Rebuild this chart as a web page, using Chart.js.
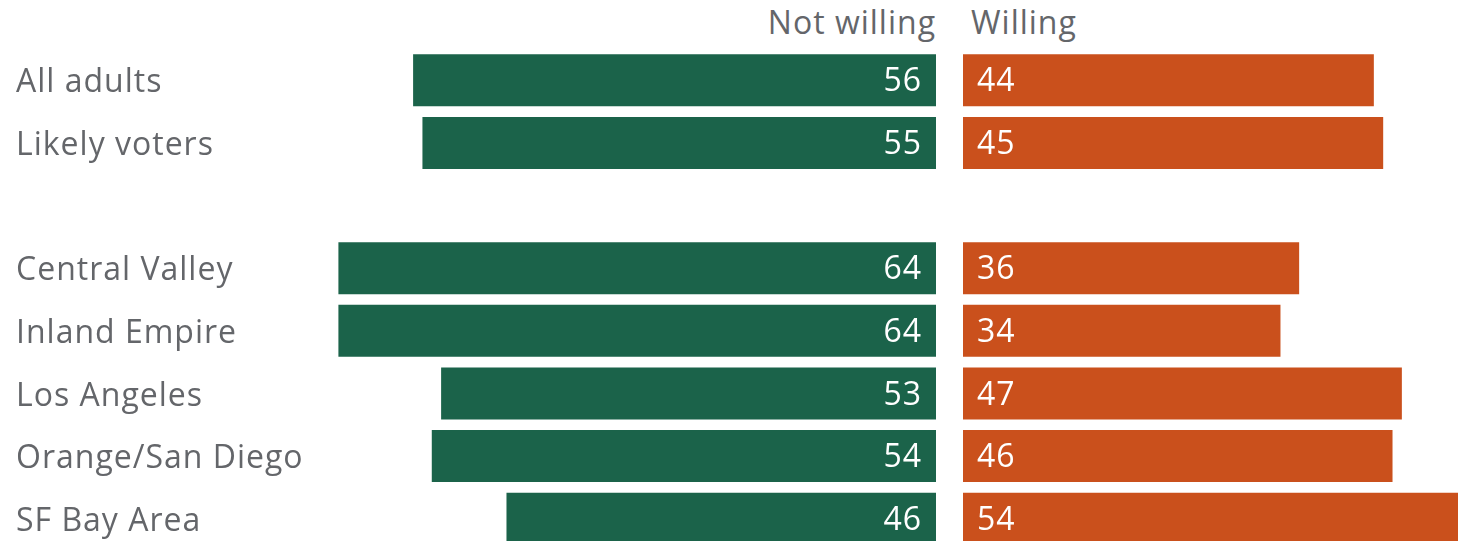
<!DOCTYPE html>
<html>
<head>
<meta charset="utf-8">
<script src="https://cdn.jsdelivr.net/npm/chart.js@4.4.1/dist/chart.umd.min.js"></script>
<style>
  html, body { margin: 0; padding: 0; background: #fff; }
  body { width: 1458px; height: 541px; overflow: hidden; position: relative; font-family: "Open Sans", sans-serif; }
  .head { position: absolute; top: 0; font-size: 32px; letter-spacing: 1px; color: #64666a; line-height: 44px; }
  #headLeft { right: calc(1458px - 936px); }
  #headRight { left: 971px; }
  #leftWrap { position: absolute; left: 0; top: 49px; width: 936px; height: 501px; }
  #rightWrap { position: absolute; left: 963px; top: 49px; width: 606px; height: 501px; }
</style>
</head>
<body>
<div class="head" id="headLeft">Not willing</div>
<div class="head" id="headRight">Willing</div>
<div id="leftWrap"><canvas id="leftChart"></canvas></div>
<div id="rightWrap"><canvas id="rightChart"></canvas></div>
<script>
  // categories (blank row = spacer between groups)
  const categories = ["All adults", "Likely voters", "", "Central Valley", "Inland Empire", "Los Angeles", "Orange/San Diego", "SF Bay Area"];
  const notWilling = [56, 55, null, 64, 64, 53, 54, 46];
  const willing = [44, 45, null, 36, 34, 47, 46, 54];

  const green = '#1b634a';
  const orange = '#ca501c';
  const textGray = '#64666a';
  const fontFamily = '"Open Sans", sans-serif';

  // slightly wider text, closer to the original typeface
  const spacing = {
    id: 'spacing',
    beforeDraw(chart) { chart.ctx.letterSpacing = '1px'; }
  };

  // draws the value inside each bar, near the zero line
  const valueLabels = {
    id: 'valueLabels',
    afterDatasetsDraw(chart) {
      const ctx = chart.ctx;
      const meta = chart.getDatasetMeta(0);
      const side = chart.options.plugins.valueLabels.side;
      ctx.save();
      ctx.fillStyle = '#ffffff';
      ctx.font = '32px ' + fontFamily;
      ctx.textBaseline = 'middle';
      meta.data.forEach((bar, i) => {
        const v = chart.data.datasets[0].data[i];
        if (v == null) return;
        if (side === 'left') {
          ctx.textAlign = 'right';
          ctx.fillText(v, bar.base - 14, bar.y + 2);
        } else {
          ctx.textAlign = 'left';
          ctx.fillText(v, bar.base + 14, bar.y + 2);
        }
      });
      ctx.restore();
    }
  };

  new Chart(document.getElementById('leftChart'), {
    type: 'bar',
    data: {
      labels: categories,
      datasets: [{
        label: 'Not willing',
        data: notWilling,
        backgroundColor: green,
        borderWidth: 0,
        categoryPercentage: 1,
        barPercentage: 0.83
      }]
    },
    options: {
      indexAxis: 'y',
      responsive: true,
      maintainAspectRatio: false,
      animation: false,
      layout: { padding: { left: 16, right: 0, top: 0, bottom: 0 } },
      plugins: {
        legend: { display: false },
        tooltip: { enabled: false },
        valueLabels: { side: 'left' }
      },
      scales: {
        x: {
          reverse: true,
          min: 0,
          max: 64.9,
          display: false
        },
        y: {
          grid: { display: false },
          border: { display: false },
          afterFit(scale) {
            scale.width = 314;
            scale.paddingTop = 0;
            scale.paddingBottom = 0;
          },
          ticks: {
            crossAlign: 'far',
            padding: 0,
            labelOffset: 3,
            color: textGray,
            font: { family: fontFamily, size: 32 }
          }
        }
      }
    },
    plugins: [spacing, valueLabels]
  });

  new Chart(document.getElementById('rightChart'), {
    type: 'bar',
    data: {
      labels: categories,
      datasets: [{
        label: 'Willing',
        data: willing,
        backgroundColor: orange,
        borderWidth: 0,
        categoryPercentage: 1,
        barPercentage: 0.83
      }]
    },
    options: {
      indexAxis: 'y',
      responsive: true,
      maintainAspectRatio: false,
      animation: false,
      layout: { padding: 0 },
      plugins: {
        legend: { display: false },
        tooltip: { enabled: false },
        valueLabels: { side: 'right' }
      },
      scales: {
        x: { min: 0, max: 64.9, display: false },
        y: { display: false }
      }
    },
    plugins: [spacing, valueLabels]
  });
</script>
</body>
</html>
